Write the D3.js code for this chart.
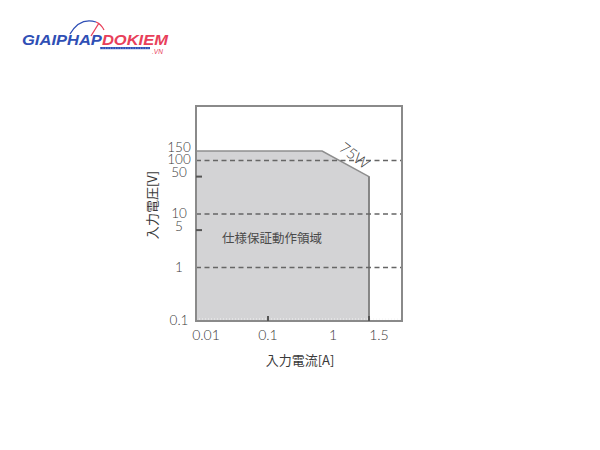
<!DOCTYPE html>
<html><head><meta charset="utf-8">
<script src="https://cdn.jsdelivr.net/npm/d3@7"></script>
<style>
html,body{margin:0;padding:0;background:#fff;}
svg{display:block;}
</style>
</head><body>
<svg id="chart" width="600" height="450"></svg>
<script>
// ---- data ----
const yTickLabels = ["150","100","50","10","5","1","0.1"];
const yTickValues = [150,100,50,10,5,1,0.1];
const yMinorTicks = [50,5];
const gridValues = [100,10,1];
const xTickLabels = ["0.01","0.1","1","1.5"];
const xTickValues = [0.01,0.1,1,1.5];
const xMinorTicks = [0.1,1.5];
// operating region boundary (current [A], voltage [V])
const regionCurrent = [0.0078, 0.68, 1.5, 1.5, 0.0078];
const regionVoltage = [150, 150, 50, 0.1, 0.1];
const powerLabel = "75W";
const regionLabel = "仕様保証動作領域";
const xTitle = "入力電流[A]";
const yTitle = "入力電圧[V]";

const svg = d3.select("#chart");
const L = 196, R = 402, T = 106, B = 321;

// x axis drawn with non-uniform decade spacing (piecewise log)
const x = d3.scaleLog()
  .domain([0.0078, 0.01, 0.1, 1, 1.5, 2.8])
  .range([L, 203, 268, 333, 369, R]);
const y = d3.scaleLog().domain([0.1, 1000]).range([B, 107]);

const font = "'Noto Sans CJK JP','Noto Sans',sans-serif";
const numFont = "'Lato','Open Sans',sans-serif";

// region polygon
const pts = regionCurrent.map((c,i)=>[x(c), y(regionVoltage[i])]);
svg.append("path")
  .attr("d", d3.line()(pts) + "Z")
  .attr("fill", "#d3d3d5")
  .attr("stroke", "#8e8e8e")
  .attr("stroke-width", 1.5);

// darker right boundary
svg.append("line")
  .attr("x1", x(1.5)).attr("x2", x(1.5))
  .attr("y1", y(50)).attr("y2", B)
  .attr("stroke", "#7d7d7d").attr("stroke-width", 1.5);

// faint dotted line along bottom
svg.append("line")
  .attr("x1", L).attr("x2", R).attr("y1", B-2).attr("y2", B-2)
  .attr("stroke", "#f2f2f2").attr("stroke-width", 1)
  .attr("stroke-dasharray", "1,2");

// dashed grid lines
svg.selectAll(".grid").data(gridValues).enter().append("line")
  .attr("x1", L).attr("x2", R)
  .attr("y1", d=>y(d)).attr("y2", d=>y(d))
  .attr("stroke", "#666").attr("stroke-width", 1.3)
  .attr("stroke-dasharray", "5,3.5");

// frame
svg.append("rect")
  .attr("x", L).attr("y", T).attr("width", R-L).attr("height", B-T)
  .attr("fill", "none").attr("stroke", "#8a8a8a").attr("stroke-width", 2);

// minor y ticks
svg.selectAll(".ytk").data(yMinorTicks).enter().append("line")
  .attr("x1", L).attr("x2", L+6)
  .attr("y1", d=>y(d)).attr("y2", d=>y(d))
  .attr("stroke", "#555").attr("stroke-width", 2);

// minor x ticks
svg.selectAll(".xtk").data(xMinorTicks).enter().append("line")
  .attr("x1", d=>x(d)).attr("x2", d=>x(d))
  .attr("y1", B).attr("y2", B-5)
  .attr("stroke", "#555").attr("stroke-width", 2);

// y tick labels (small vertical nudges to mimic the crowded original)
const yLabelShift = [-4.5, -2, -4.5, -1, -4.5, -1, -1];
svg.selectAll(".ylab").data(yTickValues).enter().append("text")
  .attr("x", 179)
  .attr("y", (d,i)=>y(d) + yLabelShift[i] + 5)
  .attr("text-anchor", "middle")
  .attr("font-family", numFont)
  .attr("font-weight", 300)
  .attr("font-size", 13.5)
  .attr("fill", "#3a3a3a")
  .text((d,i)=>yTickLabels[i]);

// x tick labels
const xLabelShift = [3, 0, 0, 10];
svg.selectAll(".xlab").data(xTickValues).enter().append("text")
  .attr("x", (d,i)=>x(d) + xLabelShift[i])
  .attr("y", 340)
  .attr("text-anchor", "middle")
  .attr("font-family", numFont)
  .attr("font-weight", 300)
  .attr("font-size", 14)
  .attr("fill", "#3a3a3a")
  .text((d,i)=>xTickLabels[i]);

// axis titles
svg.append("text")
  .attr("x", 300).attr("y", 359)
  .attr("text-anchor", "middle").attr("dominant-baseline", "central")
  .attr("font-family", font).attr("font-size", 13).attr("fill", "#3a3a3a")
  .text(xTitle);
svg.append("text")
  .attr("transform", "translate(151,205) rotate(-90)")
  .attr("text-anchor", "middle").attr("dominant-baseline", "central")
  .attr("font-family", font).attr("font-size", 13).attr("fill", "#3a3a3a")
  .text(yTitle);

// region label
svg.append("text")
  .attr("x", 222).attr("y", 237)
  .attr("dominant-baseline", "central")
  .attr("font-family", font).attr("font-size", 12.5).attr("fill", "#4a4a4a")
  .text(regionLabel);

// 75W label
svg.append("text")
  .attr("transform", "translate(355,155) rotate(37)")
  .attr("text-anchor", "middle").attr("dominant-baseline", "central")
  .attr("font-family", numFont).attr("font-weight", 300)
  .attr("font-size", 15).attr("fill", "#3a3a3a")
  .text(powerLabel);

// ---- logo watermark ----
const logo = svg.append("g");
logo.append("path")
  .attr("d", "M70,34 Q80,17 96,22")
  .attr("fill", "none").attr("stroke", "#2f4fb5").attr("stroke-width", 1.3);
logo.append("path")
  .attr("d", "M96,22 Q101,24 104,30")
  .attr("fill", "none").attr("stroke", "#e8405a").attr("stroke-width", 1.3);
logo.append("line")
  .attr("x1", 91).attr("y1", 36).attr("x2", 99).attr("y2", 23)
  .attr("stroke", "#e8405a").attr("stroke-width", 1.3);
const lt = logo.append("text")
  .attr("x", 22).attr("y", 45)
  .attr("font-family", "'Liberation Sans',Arial,sans-serif")
  .attr("font-weight", "bold").attr("font-style", "italic")
  .attr("font-size", 14.5)
  .attr("textLength", 146).attr("lengthAdjust", "spacingAndGlyphs");
lt.append("tspan").attr("fill", "#2f4fb5").text("GIAIPHAP");
lt.append("tspan").attr("fill", "#e8405a").text("DOKIEM");
logo.append("rect")
  .attr("x", 100).attr("y", 47).attr("width", 50).attr("height", 2.2)
  .attr("fill", "#2f4fb5");
logo.append("line")
  .attr("x1", 100).attr("x2", 150).attr("y1", 48.1).attr("y2", 48.1)
  .attr("stroke", "#9fb0e8").attr("stroke-width", 0.8).attr("stroke-dasharray", "1,1.5");
logo.append("text")
  .attr("x", 152).attr("y", 54)
  .attr("font-family", "'Liberation Sans',Arial,sans-serif")
  .attr("font-style", "italic").attr("font-size", 6.5).attr("fill", "#e8405a")
  .text(".VN");
</script>
</body></html>
